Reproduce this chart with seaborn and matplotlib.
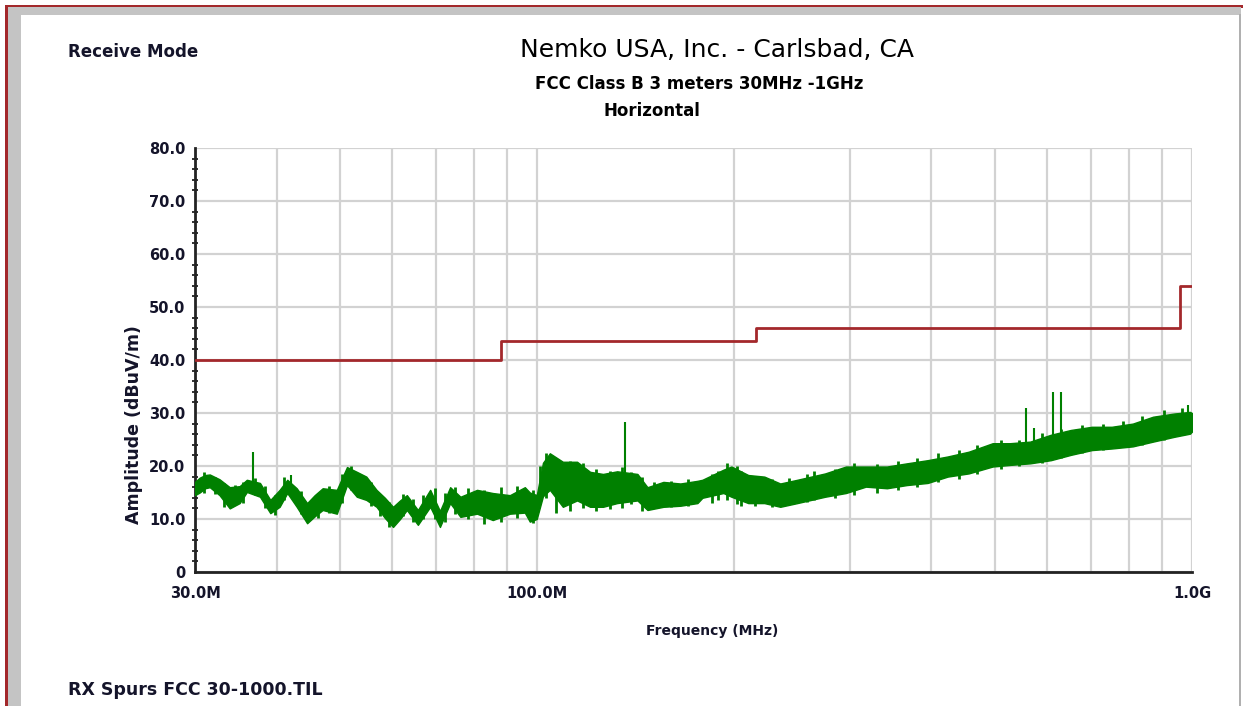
import matplotlib
matplotlib.use("Agg")
import matplotlib.pyplot as plt
from matplotlib.patches import Rectangle
from matplotlib.ticker import FixedLocator, MultipleLocator, NullFormatter
import pandas as pd
import seaborn as sns

trace_freq_mhz = [30.0, 30.5, 31.1, 31.6, 32.7, 33.9, 35.1, 36.0, 37.7, 39.1,
                  40.4, 41.5, 42.9, 44.5, 45.7, 47.0, 49.4, 51.2, 53.0, 54.8,
                  56.8, 58.5, 60.2, 61.7, 63.2, 65.7, 68.6, 71.0, 73.6, 76.3,
                  80.9, 85.5, 90.8, 95.7, 97.4, 99.8, 102.0, 104.5, 109.4, 115.0,
                  120.4, 126.0, 132.4, 142.2, 147.3, 155.8, 165.4, 175.6, 178.7, 192.4,
                  197.9, 210.0, 222.2, 235.0, 249.5, 275.2, 296.1, 317.5, 342.0, 366.7,
                  394.7, 423.5, 456.0, 496.0, 527.0, 566.0, 609.0, 653.0, 703.0, 754.0,
                  812.0, 872.0, 939.0, 993.0, 1000.0]
trace_hi = [17.0, 17.8, 18.3, 18.4, 17.5, 16.0, 16.2, 17.4, 16.8, 13.6,
            15.5, 17.4, 15.8, 13.0, 14.5, 15.8, 15.5, 19.8, 18.9, 18.0,
            15.5, 14.0, 12.3, 13.5, 14.5, 11.7, 15.5, 11.5, 16.0, 14.2,
            15.5, 14.9, 14.5, 16.0, 15.0, 14.5, 20.6, 22.4, 20.8, 20.8,
            18.9, 18.5, 19.0, 18.5, 16.0, 17.0, 16.7, 17.2, 17.4, 19.3,
            19.9, 18.3, 18.0, 16.7, 17.4, 18.6, 19.9, 19.9, 19.9, 20.5,
            21.1, 21.8, 22.7, 24.3, 24.3, 24.6, 25.9, 26.8, 27.4, 27.4,
            28.0, 29.3, 29.9, 30.2, 30.0]
trace_lo = [14.5, 15.0, 15.8, 16.0, 14.5, 12.0, 13.0, 15.1, 14.2, 11.1,
            12.3, 14.9, 12.3, 9.2, 10.5, 11.7, 11.0, 16.4, 14.2, 13.6,
            12.3, 10.2, 8.5, 10.0, 11.7, 8.9, 12.3, 8.5, 13.0, 10.4,
            11.0, 9.8, 11.0, 11.2, 9.5, 10.0, 14.3, 15.5, 12.3, 13.5,
            12.3, 12.3, 13.0, 13.5, 11.7, 12.3, 12.5, 13.0, 14.0, 14.9,
            14.2, 13.0, 13.0, 12.3, 13.0, 14.2, 14.9, 16.1, 15.8, 16.4,
            16.8, 18.0, 18.6, 19.9, 20.2, 20.5, 21.1, 22.1, 23.0, 23.3,
            23.7, 24.6, 25.5, 26.1, 26.5]

# single sweep points poking out of the envelope (MHz, low, high)
fuzz_freq_mhz = [31.0, 32.2, 33.2, 34.5, 35.5, 37.0, 38.4, 39.8, 41.0, 43.6,
                 46.3, 48.0, 50.3, 52.0, 55.8, 57.6, 59.3, 62.4, 64.5, 67.0,
                 69.8, 72.3, 74.9, 78.5, 83.0, 88.0, 93.0, 98.5,
                 101.0, 103.2, 106.8, 108.0, 112.0, 117.5, 123.0, 129.0, 134.5, 139.0,
                 144.5, 151.0, 160.0, 170.0, 185.0, 189.0, 195.0, 202.0, 205.0,
                 215.0, 228.0, 242.0, 258.0, 265.0, 285.0, 305.0, 330.0, 355.0, 380.0,
                 410.0, 440.0, 470.0, 510.0, 545.0, 590.0, 630.0, 680.0, 730.0, 785.0,
                 840.0, 905.0, 965.0]
fuzz_lo = [15.0, 14.8, 12.2, 12.8, 13.0, 14.5, 12.0, 10.8, 13.5, 11.0,
           10.2, 11.2, 13.0, 15.5, 12.5, 10.5, 8.5, 10.5, 9.5, 10.0,
           10.0, 9.5, 11.0, 10.0, 9.0, 9.5, 10.2, 9.2,
           13.0, 14.0, 11.2, 13.5, 11.5, 12.0, 11.5, 11.8, 12.0, 12.8,
           11.5, 12.0, 12.2, 12.5, 13.0, 13.5, 13.5, 12.8, 12.5,
           12.5, 12.2, 12.8, 13.2, 13.5, 14.0, 14.5, 15.0, 15.5, 16.0,
           17.0, 17.5, 18.5, 19.5, 20.0, 20.5, 21.5, 22.5, 23.0, 23.5,
           24.0, 25.0, 25.8]
fuzz_hi = [18.8, 18.0, 16.8, 16.4, 16.9, 17.8, 16.2, 14.6, 17.9, 15.2,
           15.0, 16.3, 18.5, 20.0, 17.0, 14.8, 13.2, 14.8, 13.8, 14.5,
           15.8, 15.0, 16.0, 15.8, 15.5, 16.0, 16.2, 15.5,
           20.0, 22.5, 21.5, 20.5, 21.0, 20.5, 19.5, 19.0, 19.8, 18.8,
           18.0, 17.0, 17.2, 17.5, 18.5, 19.0, 20.5, 20.0, 19.0,
           18.2, 17.5, 17.8, 18.5, 19.0, 19.5, 20.5, 20.3, 21.0, 21.5,
           22.5, 23.0, 24.0, 25.0, 25.0, 26.2, 27.0, 27.8, 28.0, 28.5,
           29.5, 30.5, 31.0]

# narrow spurs sticking out of the noise floor
spur_freq_mhz = [36.8, 42.0, 136.3, 558.0, 574.0, 613.0, 630.0, 985.0]
spur_base = [17.0, 16.0, 18.0, 24.0, 24.0, 25.5, 25.5, 29.0]
spur_peak = [22.6, 18.3, 28.3, 30.9, 27.1, 34.0, 34.0, 31.5]

# FCC Class B 3 m limit line
limit_freq_mhz = [30, 88, 216, 960, 1000]
limit_level = [40.0, 43.5, 46.0, 54.0, 54.0]

grid_freqs = [30, 40, 50, 60, 70, 80, 90, 100, 200, 300, 400, 500, 600,
              700, 800, 900, 1000]
x_labels = {30: "30.0M", 100: "100.0M", 1000: "1.0G"}
y_major = [0, 10, 20, 30, 40, 50, 60, 70, 80]

TEXT = "#14142a"
GREEN = "#008000"
LIMIT_RED = "#a3282b"

sns.set_theme(style="white")
plt.rcParams["font.family"] = ["DejaVu Sans"]

fig = plt.figure(figsize=(12.43, 7.06), dpi=100)
ax = fig.add_axes([195 / 1243, 1 - 572 / 706, 997 / 1243, 424 / 706])

# window frame of the screenshot
frame = [
    (5, 5, 1238, 2.5, LIMIT_RED),
    (5, 5, 2.5, 701, LIMIT_RED),
    (7.5, 7.5, 1233, 7, "#c4c4c4"),
    (7.5, 7.5, 13, 698.5, "#c4c4c4"),
    (1239, 14, 2, 692, "#b0b0b0"),
]
for x0, y0, w, h, c in frame:
    fig.add_artist(Rectangle((x0 / 1243, 1 - (y0 + h) / 706), w / 1243, h / 706,
                             transform=fig.transFigure, color=c, lw=0))

trace = pd.DataFrame({"freq": trace_freq_mhz, "lo": trace_lo, "hi": trace_hi})
fuzz = pd.DataFrame({"freq": fuzz_freq_mhz, "lo": fuzz_lo, "hi": fuzz_hi})
limit = pd.DataFrame({"freq": limit_freq_mhz, "level": limit_level})

ax.fill_between(trace["freq"], trace["lo"], trace["hi"], color=GREEN, lw=1.0,
                edgecolor=GREEN, zorder=3)
ax.vlines(fuzz["freq"], fuzz["lo"], fuzz["hi"], color=GREEN, lw=2.0, zorder=3)
ax.vlines(spur_freq_mhz, spur_base, spur_peak, color=GREEN, lw=1.5, zorder=3)
sns.lineplot(data=limit, x="freq", y="level", ax=ax, color=LIMIT_RED, lw=2,
             drawstyle="steps-post", zorder=4)

ax.set_xscale("log")
ax.set_xlim(30, 1000)
ax.set_ylim(0, 80)

ax.xaxis.set_major_locator(FixedLocator(grid_freqs))
ax.set_xticklabels([x_labels.get(f, "") for f in grid_freqs])
ax.xaxis.set_minor_formatter(NullFormatter())
ax.xaxis.set_minor_locator(FixedLocator([]))
ax.set_yticks(y_major)
ax.set_yticklabels(["0" if v == 0 else f"{v:.1f}" for v in y_major])
ax.yaxis.set_minor_locator(MultipleLocator(2))

ax.grid(True, which="major", color="#d2d2d2", lw=1.6)
ax.set_axisbelow(True)
for side in ("top", "right"):
    ax.spines[side].set_visible(False)
for side in ("left", "bottom"):
    ax.spines[side].set_color("#222222")
    ax.spines[side].set_linewidth(2)

ax.tick_params(axis="x", which="major", direction="inout", length=8, width=1.5,
               color="#222222", pad=6, labelsize=10.5, labelcolor=TEXT)
ax.tick_params(axis="y", which="major", direction="out", length=7, width=1.5,
               color="#222222", pad=0, labelsize=10.5, labelcolor=TEXT)
ax.tick_params(axis="y", which="minor", direction="inout", length=5, width=1.3,
               color="#222222", left=True)
for lab in ax.get_xticklabels() + ax.get_yticklabels():
    lab.set_fontweight("bold")

ax.set_xlabel("Frequency (MHz)", fontsize=10, fontweight="bold", color=TEXT)
ax.xaxis.set_label_coords((712 - 195) / 997, (572 - 624) / 424)
ax.set_ylabel("Amplitude (dBuV/m)", fontsize=12.5, fontweight="bold", color=TEXT)
ax.yaxis.set_label_coords((143 - 195) / 997, (572 - 425) / 424)

fig.text(68 / 1243, 1 - 52 / 706, "Receive Mode", fontsize=12, fontweight="bold",
         color=TEXT, va="center")
fig.text(717 / 1243, 1 - 50 / 706, "Nemko USA, Inc. - Carlsbad, CA", fontsize=18,
         color="#000000", ha="center", va="center")
fig.text(699 / 1243, 1 - 84 / 706, "FCC Class B 3 meters 30MHz -1GHz", fontsize=12,
         fontweight="bold", color="#000000", ha="center", va="center")
fig.text(652 / 1243, 1 - 111 / 706, "Horizontal", fontsize=12, fontweight="bold",
         color="#000000", ha="center", va="center")
fig.text(68 / 1243, 1 - 690 / 706, "RX Spurs FCC 30-1000.TIL", fontsize=12.5,
         fontweight="bold", color=TEXT, va="center")

fig.savefig("out.png", dpi=100)
